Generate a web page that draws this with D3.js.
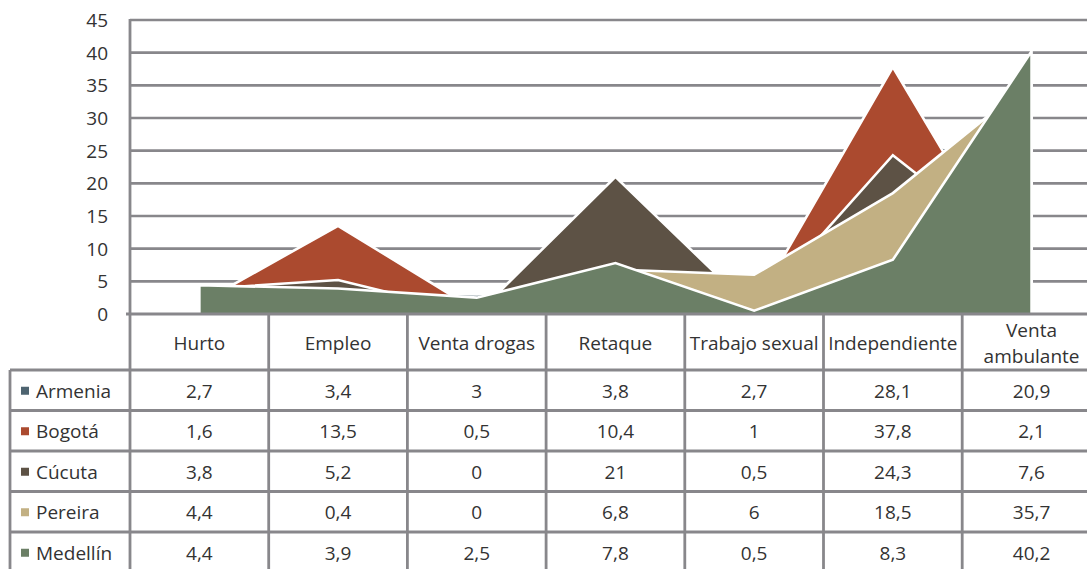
<!DOCTYPE html>
<html><head><meta charset="utf-8">
<script src="https://cdn.jsdelivr.net/npm/d3@7"></script>
<style>
html,body{margin:0;padding:0;background:#fff;overflow:hidden}
svg text{font-family:"Open Sans","Noto Sans",sans-serif;fill:#333}
</style></head>
<body><svg id="c" width="1087" height="569"></svg>
<script>
const categories = ["Hurto","Empleo","Venta drogas","Retaque","Trabajo sexual","Independiente","Venta ambulante"];
const seriesNames = ["Armenia","Bogotá","Cúcuta","Pereira","Medellín"];
const armenia  = [2.7, 3.4, 3, 3.8, 2.7, 28.1, 20.9];
const bogota   = [1.6, 13.5, 0.5, 10.4, 1, 37.8, 2.1];
const cucuta   = [3.8, 5.2, 0, 21, 0.5, 24.3, 7.6];
const pereira  = [4.4, 0.4, 0, 6.8, 6, 18.5, 35.7];
const medellin = [4.4, 3.9, 2.5, 7.8, 0.5, 8.3, 40.2];
const colors = ["#4e6470","#ab4a2f","#5d5245","#c2b083","#6b7f66"];
const yTicks = [0,5,10,15,20,25,30,35,40,45];
const values = [armenia, bogota, cucuta, pereira, medellin];
const fmt = v => String(v).replace(".", ",");
const FS = "19px";

const svg = d3.select("#c");
const plotLeft = 130, colW = 138.7, plotTop = 20, base = 314;
const x = d3.scaleBand().domain(categories).range([plotLeft, plotLeft + colW*categories.length]).paddingInner(0).paddingOuter(0);
const cx = c => x(c) + x.bandwidth()/2;
const y = d3.scaleLinear().domain([0,45]).range([base, plotTop]);
const grid = "#88878b";

// gridlines
svg.append("g").selectAll("line").data(yTicks.filter(t=>t>0)).join("line")
  .attr("x1", plotLeft).attr("x2", 1087).attr("y1", d=>y(d)).attr("y2", d=>y(d))
  .attr("stroke", grid).attr("stroke-width", 2.6);

// y labels
const yAxis = d3.axisLeft(y).tickValues(yTicks).tickSize(0).tickPadding(0);
const ga = svg.append("g").attr("transform", `translate(108,0)`).call(yAxis);
ga.select(".domain").remove();
ga.selectAll("text").style("font-size",FS).style("font-family","'Open Sans','Noto Sans',sans-serif").attr("fill","#333").attr("dy","0.35em");

// areas
const area = d3.area().x((d,i)=>cx(categories[i])).y0(base).y1(d=>y(d));
const line = d3.line().x(d=>d[0]).y(d=>d[1]);
values.forEach((vals, si) => {
  svg.append("path").datum(vals).attr("d", area).attr("fill", colors[si]);
  const pts = [[cx(categories[0]), base]].concat(vals.map((v,i)=>[cx(categories[i]), y(v)])).concat([[cx(categories[categories.length-1]), base]]);
  svg.append("path").datum(pts).attr("d", line).attr("fill","none")
    .attr("stroke","#fff").attr("stroke-width",2.6).attr("stroke-linejoin","miter");
});

// table
const rowH = 40.5, headTop = base, headBot = 370;
const tbl = svg.append("g");
const colEdges = d3.range(categories.length).map(i => x(categories[i]));
const hLines = [0,1,2,3,4,5].map(i => headBot + i*rowH);
tbl.append("line").attr("x1", plotLeft-4).attr("x2",1087).attr("y1",base).attr("y2",base).attr("stroke",grid).attr("stroke-width",2.8);
tbl.selectAll("line.h").data(hLines).join("line").attr("class","h")
  .attr("x1",10).attr("x2",1087).attr("y1",d=>d).attr("y2",d=>d).attr("stroke",grid).attr("stroke-width",2.8);
tbl.append("line").attr("x1",plotLeft).attr("x2",plotLeft).attr("y1",plotTop-1).attr("y2",569).attr("stroke",grid).attr("stroke-width",2.8);
tbl.selectAll("line.v").data(colEdges.slice(1)).join("line").attr("class","v")
  .attr("x1",d=>d).attr("x2",d=>d).attr("y1",base).attr("y2",569).attr("stroke",grid).attr("stroke-width",2.8);
tbl.append("line").attr("x1",10).attr("x2",10).attr("y1",headBot).attr("y2",569).attr("stroke",grid).attr("stroke-width",2.8);

// header labels
categories.forEach(c => {
  const words = c === "Venta ambulante" ? ["Venta","ambulante"] : [c];
  const mid = (headTop+headBot)/2 + 1;
  words.forEach((w,i)=>{
    tbl.append("text").attr("x", cx(c)).attr("text-anchor","middle").style("font-size",FS)
      .attr("y", mid + (i - (words.length-1)/2)*26).attr("dy","0.35em").text(w);
  });
});

// rows
seriesNames.forEach((name, si) => {
  const yc = headBot + si*rowH + rowH/2 + 1;
  tbl.append("rect").attr("x",21).attr("y",yc-4.5).attr("width",8).attr("height",8).attr("fill",colors[si]);
  tbl.append("text").attr("x",36).attr("y",yc).attr("dy","0.35em").style("font-size",FS).text(name);
  values[si].forEach((v,i)=>{
    tbl.append("text").attr("x",cx(categories[i])).attr("y",yc).attr("dy","0.35em")
      .attr("text-anchor","middle").style("font-size",FS).text(fmt(v));
  });
});
</script></body></html>
